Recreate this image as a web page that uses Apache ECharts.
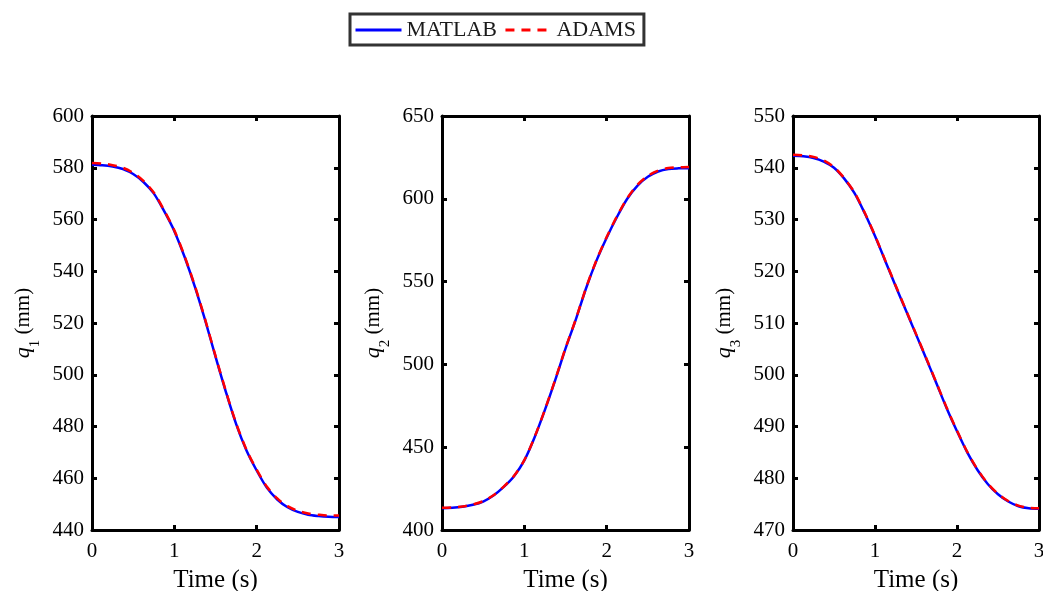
<!DOCTYPE html>
<html>
<head>
<meta charset="utf-8">
<script src="https://cdn.jsdelivr.net/npm/echarts@6/dist/echarts.min.js"></script>
<style>html,body{margin:0;padding:0;background:#fff}#c{width:1043px;height:591px}</style>
</head>
<body>
<div id="c"></div>
<script>
// ---- data ----
const time = [0, 0.125, 0.25, 0.375, 0.5, 0.625, 0.75, 0.875, 1, 1.125, 1.25, 1.375, 1.5,
              1.625, 1.75, 1.875, 2, 2.125, 2.25, 2.375, 2.5, 2.625, 2.75, 2.875, 3];
const q1Matlab = [581.2, 581.0, 580.5, 579.5, 577.6, 574.5, 570.1, 563.3, 555.5, 545.5, 534.0, 521.0, 507.0,
                  493.5, 481.0, 470.8, 463.0, 456.3, 451.8, 448.8, 447.0, 445.9, 445.4, 445.1, 445.0];
const q1Adams  = [581.8, 581.6, 581.0, 580.0, 578.0, 574.9, 570.4, 563.6, 555.8, 545.8, 534.3, 521.3, 507.3,
                  493.8, 481.3, 471.1, 463.3, 456.7, 452.2, 449.2, 447.4, 446.4, 445.9, 445.6, 445.6];
const q2Matlab = [413.2, 413.4, 414.0, 415.2, 417.2, 420.8, 426.0, 432.5, 442.0, 456.0, 472.5, 490.5, 509.5,
                  527.0, 546.0, 562.5, 576.5, 589.0, 600.0, 608.0, 613.3, 616.5, 618.0, 618.4, 618.5];
const q2Adams  = [413.4, 413.6, 414.2, 415.4, 417.4, 421.0, 426.2, 432.7, 442.2, 456.2, 472.7, 490.8, 509.8,
                  527.3, 546.3, 562.8, 576.9, 589.4, 600.4, 608.5, 613.8, 617.0, 618.6, 619.0, 619.2];
const q3Matlab = [542.3, 542.2, 541.9, 541.2, 540.0, 537.9, 535.1, 531.2, 526.8, 522.0, 517.2, 512.5, 507.8,
                  503.1, 498.3, 493.5, 489.1, 485.0, 481.6, 478.9, 476.9, 475.5, 474.6, 474.2, 474.1];
const q3Adams  = [542.5, 542.4, 542.1, 541.4, 540.1, 538.0, 535.2, 531.3, 526.9, 522.1, 517.3, 512.6, 507.9,
                  503.2, 498.4, 493.6, 489.2, 485.1, 481.7, 479.0, 477.0, 475.6, 474.7, 474.3, 474.2];
const xRange = [0, 3, 1];
const yRanges = [[440, 600, 20], [400, 650, 50], [470, 550, 10]];
const subs = ['1', '2', '3'];
const seriesNames = ['MATLAB', 'ADAMS'];

// ---- chart ----
const FONT = 'Liberation Serif';
const gridLefts = [92, 442, 793];
const gridWidths = [247, 247, 246];
const matlab = [q1Matlab, q2Matlab, q3Matlab];
const adams = [q1Adams, q2Adams, q3Adams];

const pairs = (ys) => time.map((t, i) => [t, ys[i]]);

const grids = [], xAxes = [], yAxes = [], series = [];
const axisLine = { show: true, onZero: false, lineStyle: { color: '#000', width: 3 } };
const tick = { show: true, inside: true, length: 5, lineStyle: { color: '#000', width: 3 } };

for (let k = 0; k < 3; k++) {
  grids.push({ left: gridLefts[k], width: gridWidths[k], top: 116, height: 414,
    containLabel: false, outerBoundsMode: 'none' });
  const xBase = { type: 'value', gridIndex: k, min: xRange[0], max: xRange[1], interval: xRange[2],
    axisLine, axisTick: tick, splitLine: { show: false } };
  xAxes.push(Object.assign({}, xBase, {
    position: 'bottom',
    axisLabel: { show: true, margin: 11, color: '#000', fontFamily: FONT, fontSize: 21 },
    name: 'Time (s)', nameLocation: 'middle', nameGap: 38,
    nameTextStyle: { color: '#000', fontFamily: FONT, fontSize: 25 }
  }));
  xAxes.push(Object.assign({}, xBase, { position: 'top', axisLabel: { show: false } }));
  const yr = yRanges[k];
  const yBase = { type: 'value', gridIndex: k, min: yr[0], max: yr[1], interval: yr[2],
    axisLine, axisTick: tick, splitLine: { show: false } };
  yAxes.push(Object.assign({}, yBase, {
    position: 'left',
    axisLabel: { show: true, margin: 8, color: '#000', fontFamily: FONT, fontSize: 21 },
    name: '{q|q}{s|' + subs[k] + '}{t| (mm)}', nameLocation: 'middle', nameGap: 58, nameRotate: 90,
    nameTextStyle: {
      color: '#000', fontFamily: FONT, fontSize: 21,
      rich: {
        q: { fontFamily: FONT, fontStyle: 'italic', fontSize: 22, lineHeight: 22, color: '#000' },
        s: { fontFamily: FONT, fontSize: 15, lineHeight: 15, padding: [24, 0, 0, 0], color: '#000' },
        t: { fontFamily: FONT, fontSize: 21, lineHeight: 21, color: '#000' }
      }
    }
  }));
  yAxes.push(Object.assign({}, yBase, { position: 'right', axisLabel: { show: false } }));

  series.push({
    name: seriesNames[0], type: 'line', xAxisIndex: 2 * k, yAxisIndex: 2 * k,
    data: pairs(matlab[k]), smooth: 0.3, symbol: 'none', z: 2,
    lineStyle: { color: '#0000ff', width: 2.5 }, itemStyle: { color: '#0000ff' }
  });
  series.push({
    name: seriesNames[1], type: 'line', xAxisIndex: 2 * k, yAxisIndex: 2 * k,
    data: pairs(adams[k]), smooth: 0.3, symbol: 'none', z: 3,
    lineStyle: { color: '#ff0000', width: 2.5, type: [9, 7] }, itemStyle: { color: '#ff0000' }
  });
}

const chart = echarts.init(document.getElementById('c'), null, { renderer: 'canvas' });
chart.setOption({
  animation: false,
  backgroundColor: '#fff',
  legend: {
    data: seriesNames, left: 350, top: 14, orient: 'horizontal',
    itemWidth: 46, itemHeight: 12, itemGap: 7,
    padding: [5, 8, 4, 4], borderColor: '#333', borderWidth: 3,
    itemStyle: { opacity: 0 },
    lineStyle: { width: 3 },
    textStyle: { fontFamily: FONT, fontSize: 22, color: '#1a1a1a' }
  },
  grid: grids, xAxis: xAxes, yAxis: yAxes, series
});
</script>
</body>
</html>
